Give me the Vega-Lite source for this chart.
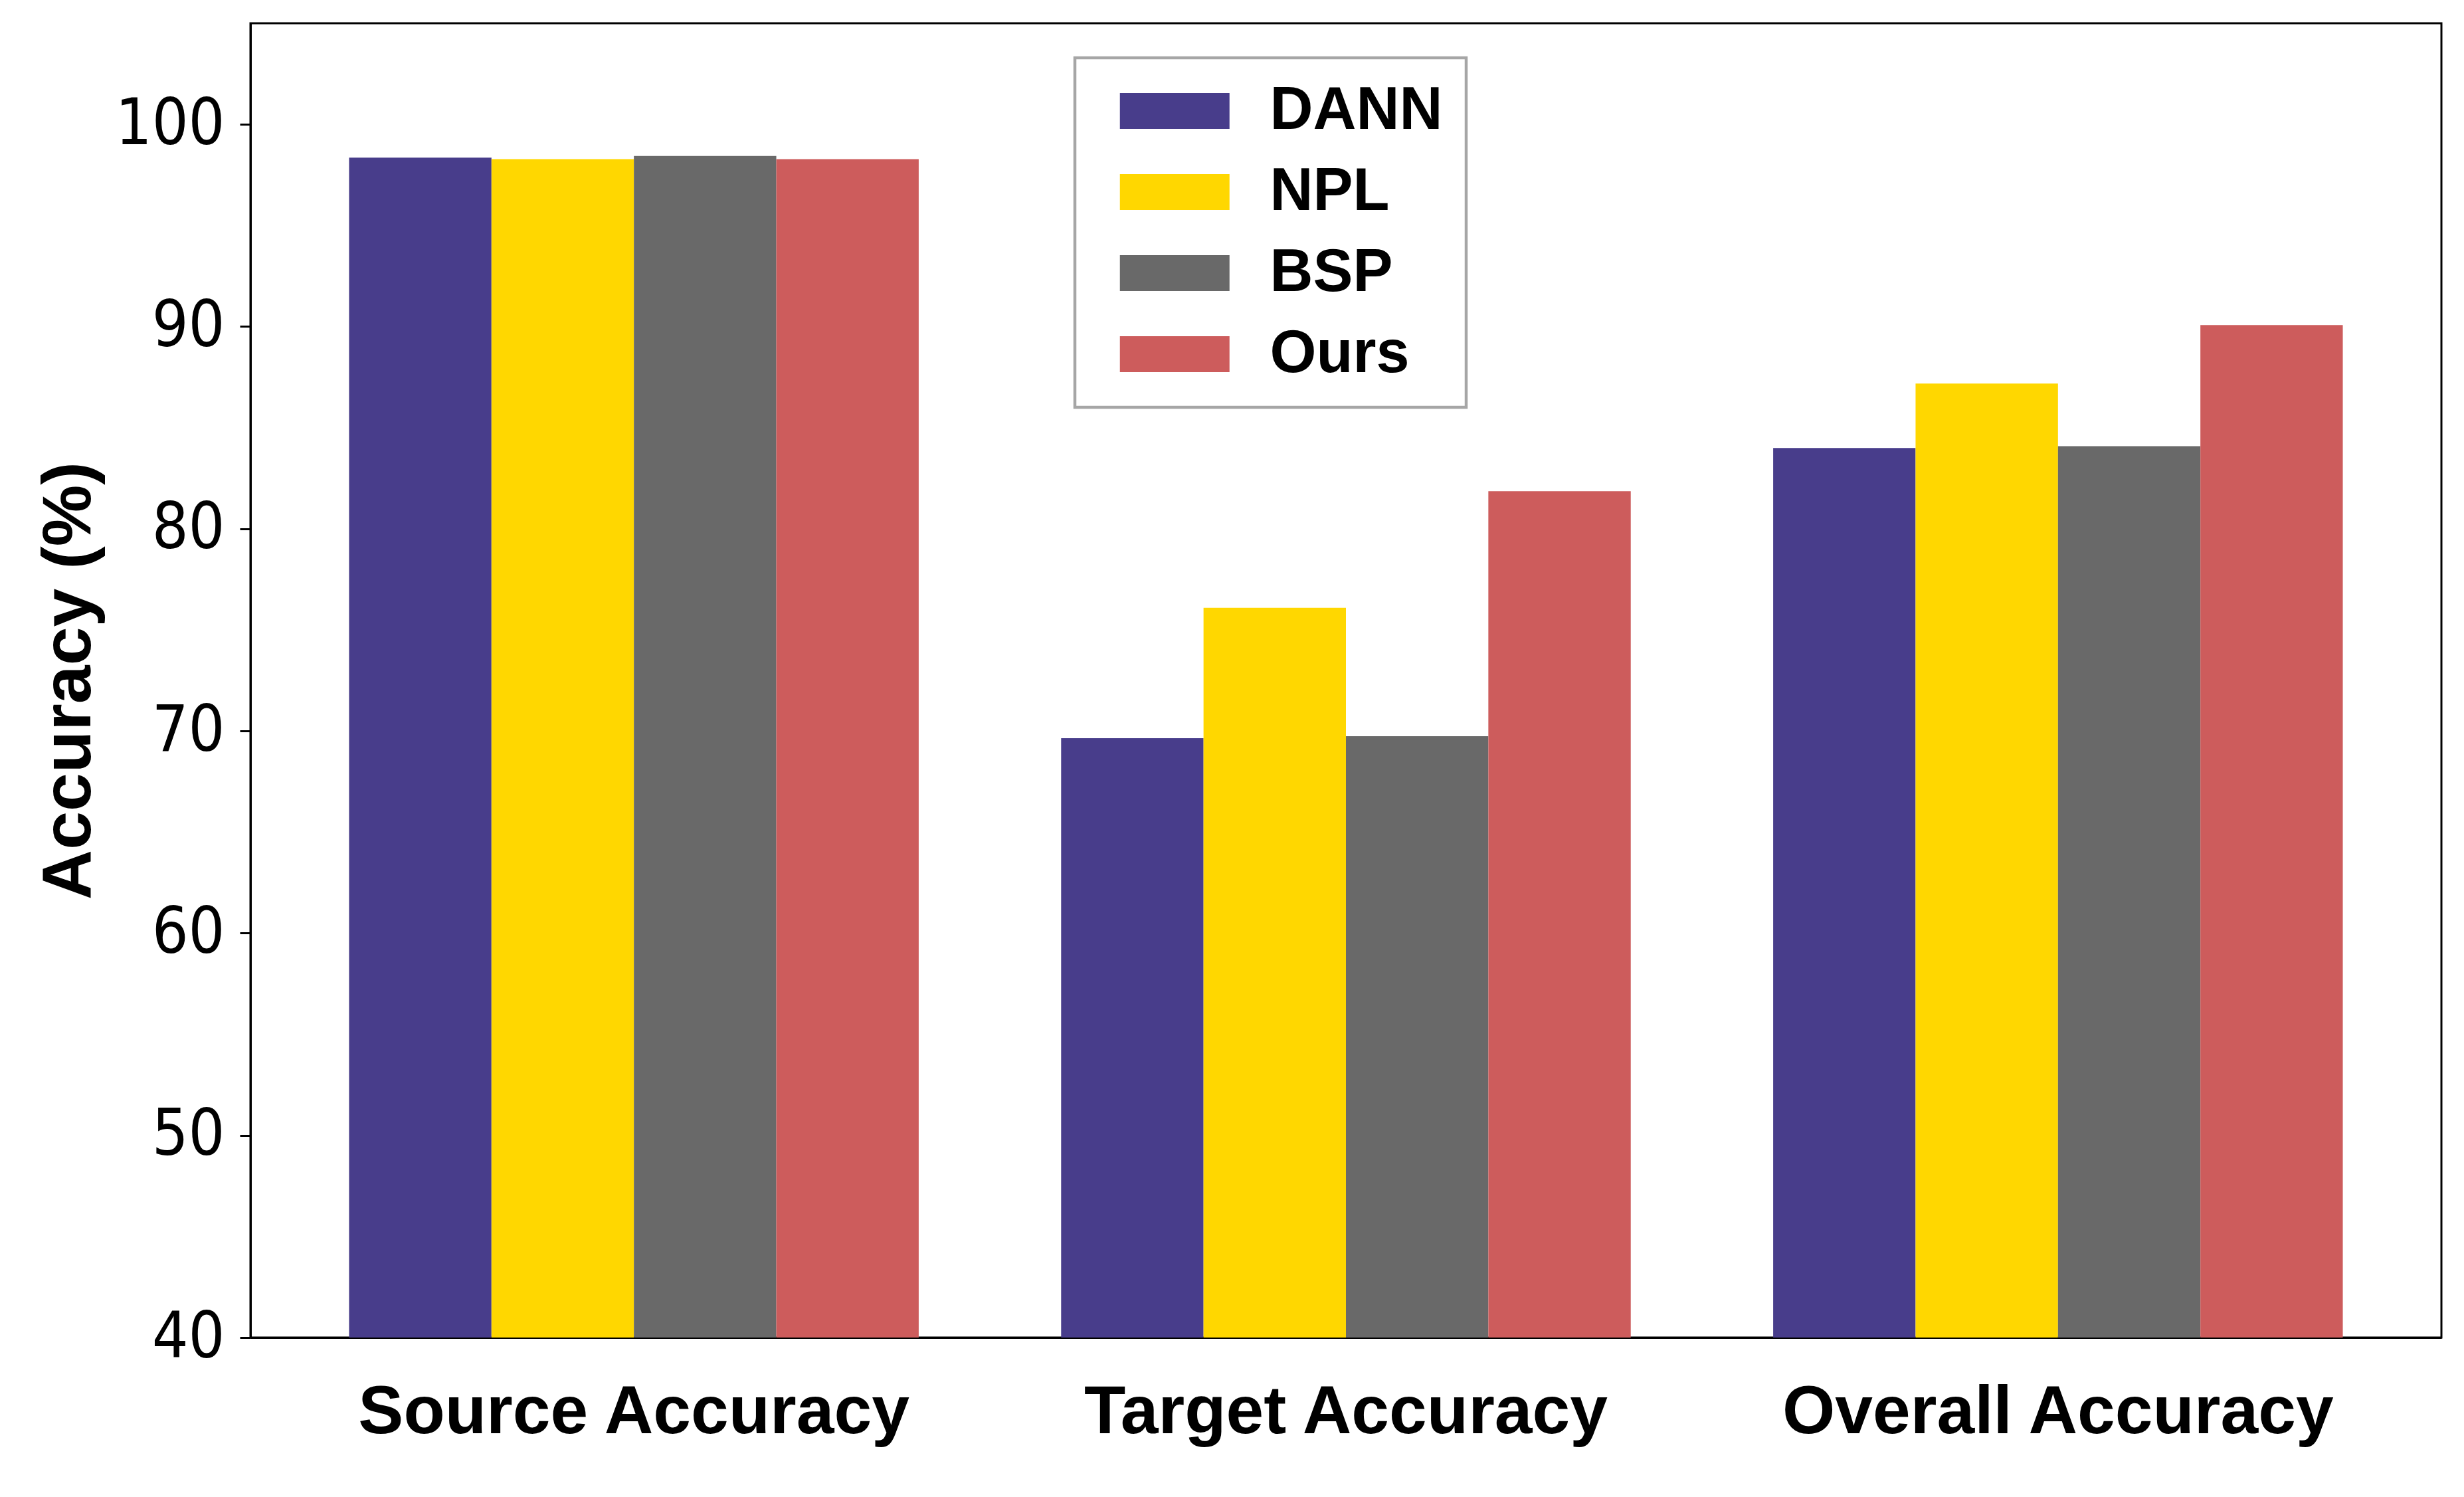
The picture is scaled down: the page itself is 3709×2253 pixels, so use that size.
{
  "$schema": "https://vega.github.io/schema/vega-lite/v6.json",
  "width": 3298,
  "height": 1978,
  "autosize": {"type": "none"},
  "padding": {"left": 377, "top": 35, "right": 34, "bottom": 240},
  "background": "white",
  "config": {
    "view": {"stroke": "black", "strokeWidth": 3},
    "axis": {
      "grid": false,
      "domainColor": "black",
      "domainWidth": 3,
      "tickColor": "black",
      "tickWidth": 3,
      "labelColor": "black",
      "titleColor": "black"
    }
  },
  "data": {
    "values": [
      {"metric": "Source Accuracy", "method": "DANN", "accuracy": 98.35},
      {"metric": "Source Accuracy", "method": "NPL", "accuracy": 98.28},
      {"metric": "Source Accuracy", "method": "BSP", "accuracy": 98.44},
      {"metric": "Source Accuracy", "method": "Ours", "accuracy": 98.28},
      {"metric": "Target Accuracy", "method": "DANN", "accuracy": 69.64},
      {"metric": "Target Accuracy", "method": "NPL", "accuracy": 76.09},
      {"metric": "Target Accuracy", "method": "BSP", "accuracy": 69.74},
      {"metric": "Target Accuracy", "method": "Ours", "accuracy": 81.86},
      {"metric": "Overall Accuracy", "method": "DANN", "accuracy": 83.99},
      {"metric": "Overall Accuracy", "method": "NPL", "accuracy": 87.18},
      {"metric": "Overall Accuracy", "method": "BSP", "accuracy": 84.08},
      {"metric": "Overall Accuracy", "method": "Ours", "accuracy": 90.07}
    ]
  },
  "mark": {"type": "bar", "clip": true},
  "encoding": {
    "x": {
      "field": "metric",
      "type": "nominal",
      "sort": ["Source Accuracy", "Target Accuracy", "Overall Accuracy"],
      "scale": {"paddingInner": 0.2, "paddingOuter": 0.1385},
      "axis": {
        "title": null,
        "labelAngle": 0,
        "ticks": false,
        "tickSize": 0,
        "labelFont": "Liberation Sans",
        "labelFontWeight": "bold",
        "labelFontSize": 102,
        "labelPadding": 62,
        "labelLimit": 2000
      }
    },
    "xOffset": {
      "field": "method",
      "sort": ["DANN", "NPL", "BSP", "Ours"],
      "scale": {"paddingInner": 0, "paddingOuter": 0}
    },
    "y": {
      "field": "accuracy",
      "type": "quantitative",
      "scale": {"domain": [40, 105], "nice": false, "zero": false},
      "axis": {
        "values": [40, 50, 60, 70, 80, 90, 100],
        "title": "Accuracy (%)",
        "titleFont": "Liberation Sans",
        "titleFontWeight": "bold",
        "titleFontSize": 104,
        "titlePadding": 20,
        "labelFont": "DejaVu Sans Condensed",
        "labelFontSize": 96,
        "labelPadding": 23,
        "tickSize": 16
      }
    },
    "color": {
      "field": "method",
      "type": "nominal",
      "sort": ["DANN", "NPL", "BSP", "Ours"],
      "scale": {
        "domain": ["DANN", "NPL", "BSP", "Ours"],
        "range": ["#483D8B", "#FFD700", "#696969", "#CD5C5C"]
      },
      "legend": {
        "title": null,
        "orient": "none",
        "legendX": 1241,
        "legendY": 52,
        "padding": 35,
        "symbolOffset": 70.25,
        "strokeColor": "#a6a6a6",
        "fillColor": "white",
        "symbolType": "M-2,-0.6545H2V0.6545H-2Z",
        "symbolSize": 6806.25,
        "symbolStrokeWidth": 0,
        "symbolOpacity": 1,
        "labelFont": "Liberation Sans",
        "labelFontWeight": "bold",
        "labelFontSize": 90,
        "labelColor": "black",
        "labelOffset": 98.25,
        "labelLimit": 1000,
        "rowPadding": 32,
        "encode": {
          "legend": {"update": {"strokeWidth": {"value": 4.5}}}
        }
      }
    }
  }
}
